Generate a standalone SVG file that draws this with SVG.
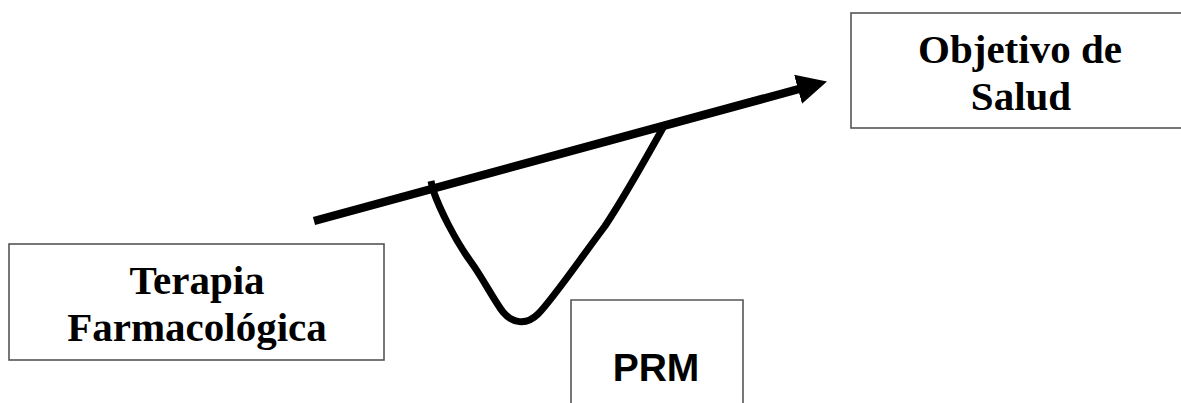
<svg xmlns="http://www.w3.org/2000/svg" width="1181" height="403" viewBox="0 0 1181 403">
<style>
.box{fill:#fff;stroke:#555;stroke-width:1.6}
.tnr{font-family:"Liberation Serif","Times New Roman",serif;font-weight:bold;font-size:41px;fill:#000;text-anchor:middle}
.ar{font-family:"Liberation Sans",Arial,sans-serif;font-weight:bold;font-size:39px;fill:#000;text-anchor:middle}
.ln{fill:none;stroke:#000}
</style>
<defs>
<marker id="ah" markerUnits="userSpaceOnUse" markerWidth="32" markerHeight="32" refX="1" refY="15" orient="auto" viewBox="0 0 32 32">
<path d="M0,0 L30,15 L0,30 Z" fill="#000"/>
</marker>
</defs>
<rect width="1181" height="403" fill="#fff"/>
<g id="terapia">
<rect class="box" x="9" y="244" width="375" height="116"/>
<text class="tnr" x="197" y="294">Terapia</text>
<text class="tnr" x="197" y="341">Farmacológica</text>
</g>
<g id="objetivo">
<rect class="box" x="851" y="13" width="340" height="115"/>
<text class="tnr" x="1020" y="63">Objetivo de</text>
<text class="tnr" x="1021" y="110">Salud</text>
</g>
<g id="prm">
<path class="box" d="M571,405 L571,300 L743,300 L743,405"/>
<text class="ar" x="656" y="381">PRM</text>
</g>
<g id="connectors">
<line class="ln" x1="314" y1="221" x2="799" y2="89" stroke-width="8.5" marker-end="url(#ah)"/>
<path class="ln" stroke-width="7" stroke-linecap="butt" stroke-linejoin="round" d="M431,181 L433,190 C440,210 455,240 471,262 C482,277 495,302 503,312 C512,323 526,326 538,314 C552,300 578,262 605,226 Q625,196 664,126"/>
</g>
</svg>
